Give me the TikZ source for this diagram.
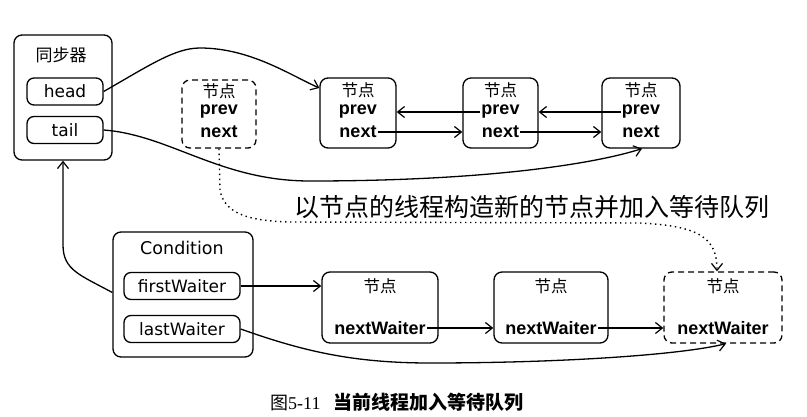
\documentclass[tikz,border=0pt]{standalone}
\usepackage{fontspec}
\setmainfont{Liberation Sans}
\newfontfamily\cjk{Noto Sans CJK SC}
\newfontfamily\lab{DejaVu Sans}
\newfontfamily\serif{Liberation Serif}
\usetikzlibrary{arrows.meta,calc}
\tikzset{
  box/.style={draw, line width=1.3pt, rounded corners=8pt, inner sep=0pt},
  slot/.style={draw, line width=1.3pt, rounded corners=7pt, inner sep=0pt, minimum height=27pt, font=\lab\fontsize{17}{17}\selectfont},
  dbox/.style={box, dashed, dash pattern=on 6pt off 4pt},
  cn/.style={font=\cjk\fontsize{16.5}{16.5}\selectfont, inner sep=0pt},
  bt/.style={font=\fontsize{18}{18}\selectfont\bfseries, inner sep=1pt},
  arr/.style={line width=1.3pt, -{Straight Barb[length=7pt,width=11pt,line width=1.2pt]}},
  dotarr/.style={line width=1.4pt, dash pattern=on 1.4pt off 3.6pt, -{Straight Barb[length=7pt,width=11pt,line width=1.2pt]}}
}
\begin{document}
\begin{tikzpicture}[x=1pt,y=-1pt]
\useasboundingbox (0,0) rectangle (807,416);
% synchronizer
\node[box, minimum width=98pt, minimum height=125pt] (sync) at (63,97.5) {};
\node[font=\cjk\fontsize{17}{17}\selectfont] (synct) at (61,55) {同步器};
\node[slot, minimum width=76pt] (head) at (65,91.5) {head};
\node[slot, minimum width=76pt] (tail) at (65,130) {tail};
% dashed node
\node[dbox, minimum width=74pt, minimum height=68pt] (dn) at (219,114) {};
\node[cn] (dnt) at (219,91) {节点};
\node[bt] (dnp) at (219,112) {prev};
\node[bt] (dnn) at (219,132) {next};
% top nodes
\node[box, minimum width=76pt, minimum height=70pt] (n1) at (358,113) {};
\node[cn] (n1t) at (358,90) {节点};
\node[bt] (n1p) at (358,112) {prev};
\node[bt] (n1n) at (358,132) {next};
\node[box, minimum width=75pt, minimum height=70pt] (n2) at (500.5,113) {};
\node[cn] (n2t) at (500.5,90) {节点};
\node[bt] (n2p) at (500.5,112) {prev};
\node[bt] (n2n) at (500.5,132) {next};
\node[box, minimum width=78pt, minimum height=70pt] (n3) at (641,113) {};
\node[cn] (n3t) at (641,90) {节点};
\node[bt] (n3p) at (641,112) {prev};
\node[bt] (n3n) at (641,132) {next};
\draw[arr] (n2p.west) -- (n2p.west -| n1.east);
\draw[arr] (n3p.west) -- (n3p.west -| n2.east);
\draw[arr] (n1n.east) -- (n1n.east -| n2.west);
\draw[arr] (n2n.east) -- (n2n.east -| n3.west);
% head / tail curves
\draw[arr] (head.east) .. controls (150,65) and (175,48) .. (200,48)
  .. controls (250,48) and (290,75) .. ([yshift=25pt]n1.west);
\draw[arr] (tail.east) .. controls (170,135) and (220,181) .. (310,181)
  .. controls (480,181) and (590,165) .. ([xshift=1pt]n3.south);
% annotation
\node[font=\cjk\fontsize{25}{25}\selectfont, inner sep=0pt] (ann) at (532,207) {以节点的线程构造新的节点并加入等待队列};
% condition
\node[box, minimum width=140pt, minimum height=125pt] (cond) at (183,294.5) {};
\node[font=\lab\fontsize{17.5}{17.5}\selectfont] (condt) at (182,248) {Condition};
\node[slot, minimum width=116pt] (fw) at (182,286) {firstWaiter};
\node[slot, minimum width=116pt] (lw) at (182,329) {lastWaiter};
% bottom nodes
\node[box, minimum width=116pt, minimum height=71pt] (m1) at (380,307.5) {};
\node[cn] (m1t) at (380,286) {节点};
\node[bt] (m1n) at (380,328) {nextWaiter};
\node[box, minimum width=114pt, minimum height=71pt] (m2) at (551,307.5) {};
\node[cn] (m2t) at (551,286) {节点};
\node[bt] (m2n) at (551,328) {nextWaiter};
\node[dbox, minimum width=118pt, minimum height=71pt] (m3) at (723,307.5) {};
\node[cn] (m3t) at (723,286) {节点};
\node[bt] (m3n) at (723,328) {nextWaiter};
\draw[arr] (fw.east) -- (fw.east -| m1.west);
\draw[arr] (m1n.east) -- (m1n.east -| m2.west);
\draw[arr] (m2n.east) -- (m2n.east -| m3.west);
\draw[arr] (lw.east) .. controls (300,350) and (350,363) .. (430,363)
  .. controls (560,363) and (680,355) .. ([xshift=3pt]m3.south);
% condition -> sync
\draw[arr] ([yshift=2pt]cond.west) .. controls (80,275) and (63,270) .. (63,245) -- (sync.south);
% dotted
\draw[dotarr] (dn.south) -- (220,190) .. controls (224,214) and (250,221) .. (290,222)
  -- (640,223) .. controls (700,226) and (717,238) .. ([xshift=-6pt]m3.north);
% caption
\node[inner sep=0pt, anchor=west] (cap) at (270,402) {\cjk\fontsize{18}{18}\selectfont 图\serif 5-11\hspace{13pt}\cjk\fontsize{19}{19}\selectfont\bfseries 当前线程加入等待队列};
\end{tikzpicture}
\end{document}
